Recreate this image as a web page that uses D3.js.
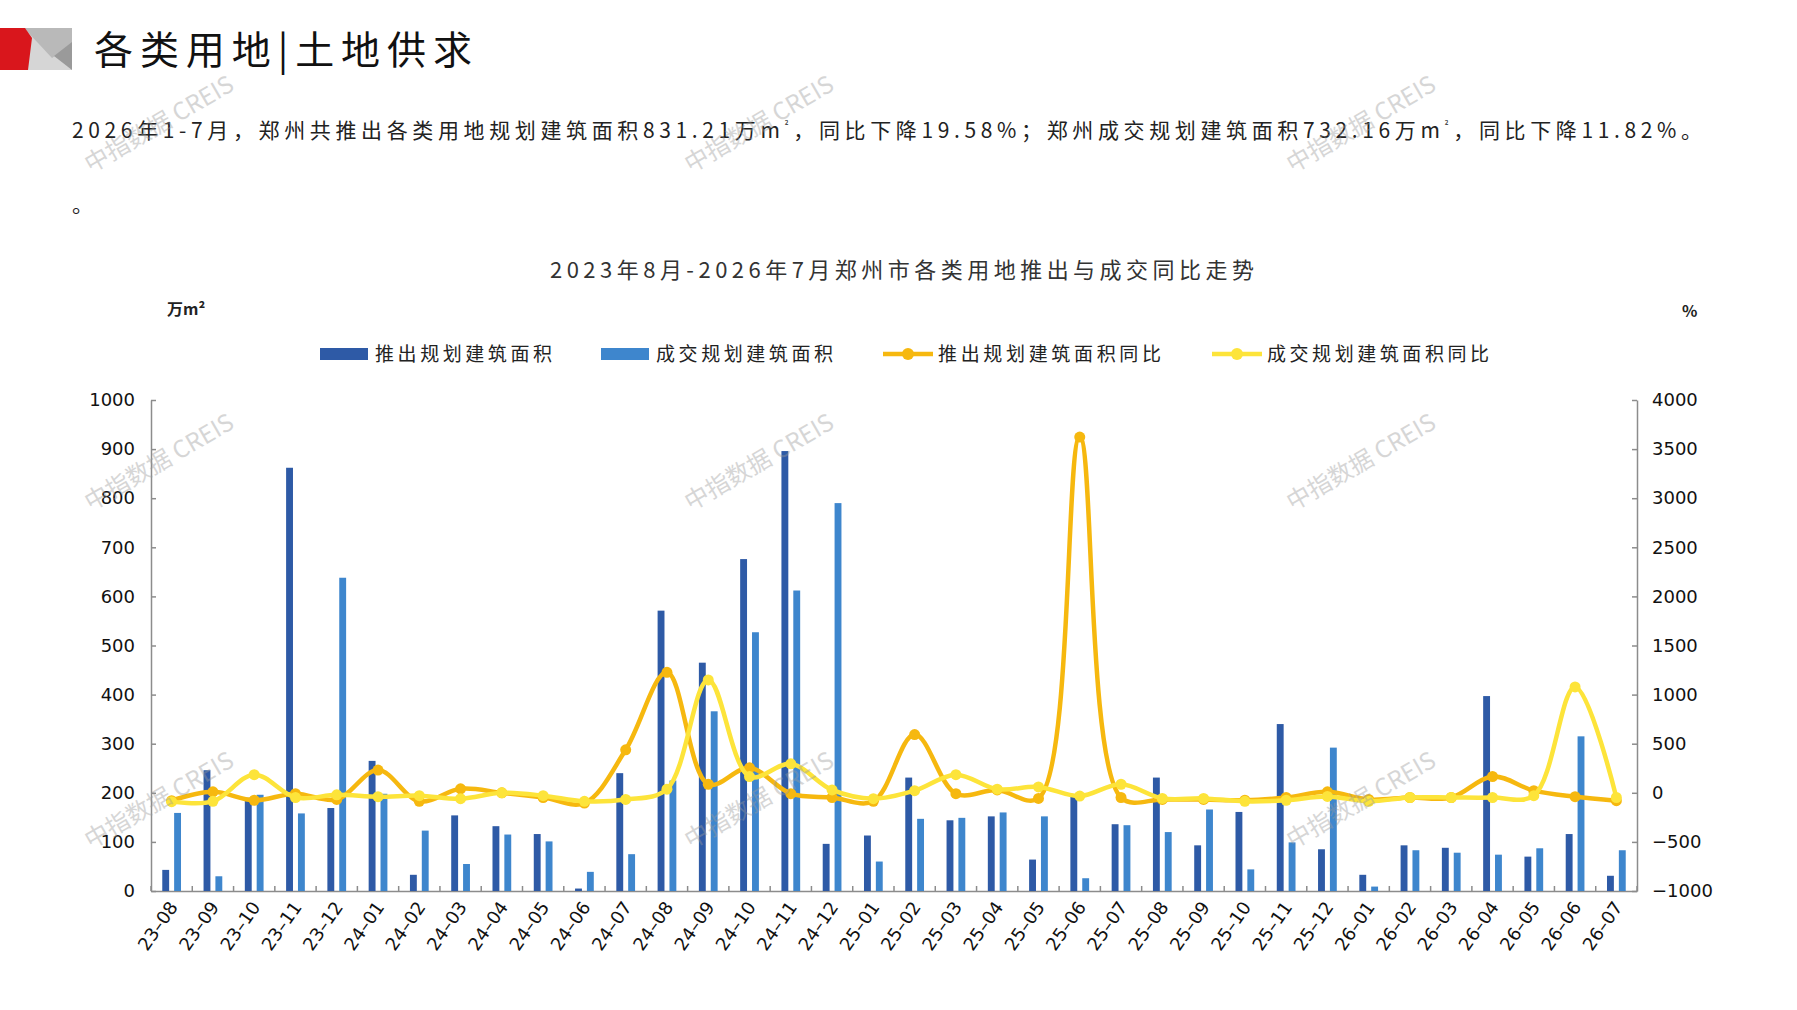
<!DOCTYPE html>
<html>
<head>
<meta charset="utf-8">
<title>郑州市各类用地推出与成交同比走势</title>
<script src="https://d3js.org/d3.v7.min.js"></script>
<style>
  body { margin: 0; background: #fff; overflow: hidden; }
  svg { display: block; }
  .cjk { font-family: 'Noto Sans CJK SC', sans-serif; }
  .num { font-family: 'DejaVu Sans', sans-serif; }
  .axis path, .axis line { stroke: #8c8c8c; stroke-width: 1.5px; }
</style>
</head>
<body>
<script>
// ---- data ----
const months = ['23-08','23-09','23-10','23-11','23-12',
  '24-01','24-02','24-03','24-04','24-05','24-06','24-07','24-08','24-09','24-10','24-11','24-12',
  '25-01','25-02','25-03','25-04','25-05','25-06','25-07','25-08','25-09','25-10','25-11','25-12',
  '26-01','26-02','26-03','26-04','26-05','26-06','26-07'];
// 推出规划建筑面积 (万m²)
const supplyArea = [43,246,190,862,169, 265,33,154,132,116,5,240,571,465,676,896,96,
  113,231,144,152,64,195,136,231,93,161,340,85, 33,93,88,397,70,116,31];
// 成交规划建筑面积 (万m²)
const dealArea = [159,30,196,158,638, 198,123,55,115,101,39,75,225,366,527,612,790,
  60,147,149,160,152,26,134,120,166,44,99,292, 9,83,78,74,87,315,83];
// 推出规划建筑面积同比 (%)
const supplyYoY = [-80,10,-76,-9,-68, 232,-87,41,0,-48,-105,438,1227,87,254,-9,-48,
  -87,593,-9,29,-57,3622,-48,-68,-68,-76,-48,10, -68,-48,-48,166,22,-40,-80];
// 成交规划建筑面积同比 (%)
const dealYoY = [-90,-87,185,-48,-21, -40,-29,-60,0,-29,-87,-68,37,1149,165,295,29,
  -60,22,185,37,60,-33,87,-57,-57,-87,-76,-37, -87,-48,-48,-48,-29,1078,-48];
const leftTicks = [0,100,200,300,400,500,600,700,800,900,1000];
const rightTicks = [-1000,-500,0,500,1000,1500,2000,2500,3000,3500,4000];
const seriesNames = ['推出规划建筑面积','成交规划建筑面积','推出规划建筑面积同比','成交规划建筑面积同比'];

const pageTitle = '各类用地|土地供求';
const summary = '2026年1-7月，郑州共推出各类用地规划建筑面积831.21万m²，同比下降19.58%；郑州成交规划建筑面积732.16万m²，同比下降11.82%。';
const chartTitle = '2023年8月-2026年7月郑州市各类用地推出与成交同比走势';
const watermark = '中指数据 CREIS';

// ---- layout ----
const W = 1797, H = 1010;
const plot = { left: 151, right: 1637, top: 400, bottom: 891 };
const colors = { dark: '#2E5AA6', light: '#3E86CD', orange: '#F6B80F', yellow: '#FDE43A' };

const svg = d3.select('body').append('svg').attr('width', W).attr('height', H);

// header logo
const logo = svg.append('g');
logo.append('rect').attr('x', 24).attr('y', 28).attr('width', 48).attr('height', 42).attr('fill', '#d6d6d6');
logo.append('polygon').attr('points', '24,28 72,28 72,44 52,58').attr('fill', '#b9b9b9');
logo.append('polygon').attr('points', '72,42 72,70 54,56').attr('fill', '#9a9a9a');
logo.append('polygon').attr('points', '0,28 25,28 32,38 28,70 0,70').attr('fill', '#d9161c');

svg.append('text').attr('class', 'cjk')
  .attr('x', 94).attr('y', 64)
  .attr('font-size', 39).attr('fill', '#111')
  .attr('textLength', 378).attr('lengthAdjust', 'spacing')
  .text(pageTitle);

// summary line, with small superscript ²
const sumText = svg.append('text').attr('class', 'cjk')
  .attr('x', 72).attr('y', 138)
  .attr('font-size', 21).attr('fill', '#222')
  .attr('textLength', 1630).attr('lengthAdjust', 'spacing');
summary.split('²').forEach((part, i, arr) => {
  sumText.append('tspan').attr('dy', i > 0 ? 9 : 0).text(part);
  if (i < arr.length - 1) {
    sumText.append('tspan').attr('font-size', 10).attr('dy', -9).text('²');
  }
});
svg.append('text').attr('class', 'cjk')
  .attr('x', 72).attr('y', 212).attr('font-size', 21).attr('fill', '#222').text('。');

svg.append('text').attr('class', 'cjk')
  .attr('x', 550).attr('y', 278)
  .attr('font-size', 22).attr('fill', '#333')
  .attr('textLength', 704).attr('lengthAdjust', 'spacing')
  .text(chartTitle);

svg.append('text').attr('class', 'cjk')
  .attr('x', 167).attr('y', 315).attr('font-size', 16).attr('font-weight', 'bold').attr('fill', '#222').text('万m²');
svg.append('text').attr('class', 'cjk')
  .attr('x', 1682).attr('y', 317).attr('font-size', 16).attr('font-weight', 'bold').attr('fill', '#222').text('%');

// ---- scales ----
const x0 = d3.scaleBand().domain(months)
  .range([plot.left, plot.right])
  .paddingInner(0.546).paddingOuter(0.273);
const x1 = d3.scaleBand().domain(['supply', 'deal'])
  .range([0, x0.bandwidth()]).paddingInner(0.42);
const yLeft = d3.scaleLinear().domain([0, 1000]).range([plot.bottom, plot.top]);
const yRight = d3.scaleLinear().domain([-1000, 4000]).range([plot.bottom, plot.top]);
const cx = i => x0(months[i]) + x0.bandwidth() / 2;

// ---- axes ----
const gLeft = svg.append('g').attr('class', 'axis num')
  .attr('transform', `translate(${plot.left},0)`)
  .call(d3.axisLeft(yLeft).tickValues(leftTicks).tickSizeInner(-5).tickSizeOuter(0).tickPadding(16)
    .tickFormat(d3.format('d')));
const gRight = svg.append('g').attr('class', 'axis num')
  .attr('transform', `translate(${plot.right},0)`)
  .call(d3.axisRight(yRight).tickValues(rightTicks).tickSizeInner(-5).tickSizeOuter(0).tickPadding(15)
    .tickFormat(d => d < 0 ? '\u2212' + Math.abs(d) : d));
[gLeft, gRight].forEach(g => g.selectAll('text').attr('font-size', 18).attr('fill', '#111'));

const gX = svg.append('g').attr('class', 'axis num')
  .attr('transform', `translate(0,${plot.bottom})`)
  .call(d3.axisBottom(x0).tickSize(0).tickPadding(0));
gX.selectAll('text')
  .attr('font-size', 18).attr('fill', '#111')
  .attr('text-anchor', 'end')
  .attr('dy', 0).attr('y', 0)
  .attr('transform', 'translate(7,16) rotate(-55)')
  .text(d => d.replace('-', '\u2013'));

const boundaries = d3.range(months.length + 1).map(i => plot.left + i * x0.step());
gX.selectAll('.btick').data(boundaries).enter().append('line')
  .attr('class', 'btick')
  .attr('x1', d => d).attr('x2', d => d)
  .attr('y1', 0).attr('y2', -5);

// ---- bars ----
const bars = svg.append('g');
bars.selectAll('.supply').data(supplyArea).enter().append('rect')
  .attr('x', (d, i) => x0(months[i]) + x1('supply'))
  .attr('y', d => yLeft(d))
  .attr('width', x1.bandwidth())
  .attr('height', d => yLeft(0) - yLeft(d))
  .attr('fill', colors.dark);
bars.selectAll('.deal').data(dealArea).enter().append('rect')
  .attr('x', (d, i) => x0(months[i]) + x1('deal'))
  .attr('y', d => yLeft(d))
  .attr('width', x1.bandwidth())
  .attr('height', d => yLeft(0) - yLeft(d))
  .attr('fill', colors.light);

// ---- lines ----
const line = d3.line()
  .x((d, i) => cx(i))
  .y(d => yRight(d))
  .curve(d3.curveCatmullRom.alpha(0.5));

function drawSeries(values, color) {
  const g = svg.append('g');
  g.append('path').datum(values)
    .attr('d', line)
    .attr('fill', 'none')
    .attr('stroke', color)
    .attr('stroke-width', 4.5)
    .attr('stroke-linejoin', 'round');
  g.selectAll('circle').data(values).enter().append('circle')
    .attr('cx', (d, i) => cx(i))
    .attr('cy', d => yRight(d))
    .attr('r', 5.5)
    .attr('fill', color);
}
drawSeries(supplyYoY, colors.orange);
drawSeries(dealYoY, colors.yellow);

// ---- legend ----
const legendItems = [
  { x: 320, w: 177, type: 'rect', color: colors.dark },
  { x: 601, w: 177, type: 'rect', color: colors.light },
  { x: 883, w: 223, type: 'line', color: colors.orange },
  { x: 1212, w: 222, type: 'line', color: colors.yellow }
];
const legendY = 354;
const lg = svg.append('g');
legendItems.forEach((it, i) => {
  if (it.type === 'rect') {
    lg.append('rect').attr('x', it.x).attr('y', legendY - 6).attr('width', 48).attr('height', 12).attr('fill', it.color);
  } else {
    lg.append('line').attr('x1', it.x).attr('x2', it.x + 50)
      .attr('y1', legendY).attr('y2', legendY)
      .attr('stroke', it.color).attr('stroke-width', 4.5);
    lg.append('circle').attr('cx', it.x + 25).attr('cy', legendY).attr('r', 6).attr('fill', it.color);
  }
  lg.append('text').attr('class', 'cjk')
    .attr('x', it.x + 55).attr('y', legendY + 7)
    .attr('font-size', 19).attr('fill', '#222')
    .attr('textLength', it.w).attr('lengthAdjust', 'spacing')
    .text(seriesNames[i]);
});

// ---- watermarks ----
const wmX = [159, 759, 1361];
const wmY = [124, 462, 800];
const wm = svg.append('g').attr('pointer-events', 'none');
wmY.forEach(y => wmX.forEach(x => {
  wm.append('text').attr('class', 'cjk')
    .attr('transform', `translate(${x},${y}) rotate(-30)`)
    .attr('text-anchor', 'middle').attr('dy', '0.35em')
    .attr('font-size', 24).attr('fill', '#9a9a9a').attr('opacity', 0.4)
    .text(watermark);
}));
</script>
</body>
</html>
